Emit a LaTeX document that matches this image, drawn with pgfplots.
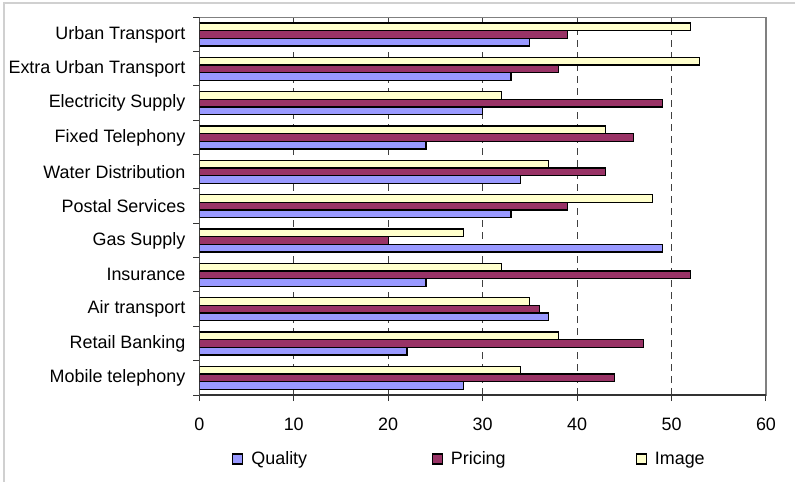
\documentclass[border=0pt]{standalone}
\usepackage{fontspec}
\setmainfont{Liberation Sans}
\usepackage{pgfplots}
\pgfplotsset{compat=1.18}
\definecolor{cQual}{HTML}{9999FF}
\definecolor{cPric}{HTML}{993366}
\definecolor{cImg}{HTML}{FFFFCC}
\definecolor{gridc}{HTML}{404040}
\definecolor{outerc}{HTML}{D0D0D0}
\begin{document}
\begin{tikzpicture}[font=\fontsize{18}{21.6}\selectfont]
\begin{axis}[
  scale only axis, width=566.7bp, height=377.7bp,
  xbar, bar width=0.223,
  xmin=0, xmax=60, ymin=-0.5, ymax=10.5,
  xtick={0,10,...,60},
  /pgf/number format/assume math mode=true,
  ytick={0,1,...,10},
  yticklabels={Mobile telephony,Retail Banking,Air transport,Insurance,Gas Supply,Postal Services,Water Distribution,Fixed Telephony,Electricity Supply,Extra Urban Transport,Urban Transport},
  yticklabel style={inner sep=0pt, xshift=-7.8bp},
  ytick style={draw=none},
  extra y ticks={-0.5,0.5,...,10.5},
  extra y tick labels={},
  extra y tick style={grid=none, yticklabel={\mbox{}}, ytick style={draw=black!80, line width=1bp}},
  tick pos=left, tick align=outside,
  major tick length=6bp,
  xtick style={black!80, line width=1bp},
  xmajorgrids=true, ymajorgrids=false,
  major x grid style={gridc, line width=1bp, dash pattern=on 7bp off 5bp},
  axis line style={draw=gray, line width=1.2bp},
  xticklabel style={inner sep=0pt, yshift=-16.5bp},
  legend columns=3,
  legend style={draw=none, fill=none, inner sep=0pt,
    at={(axis description cs:0.0577,-0.1695)}, anchor=west,
    /tikz/column 1/.style={column sep=6bp},
    /tikz/column 2/.style={column sep=122.5bp},
    /tikz/column 3/.style={column sep=6bp},
    /tikz/column 4/.style={column sep=128bp},
    /tikz/column 5/.style={column sep=6bp}},
  legend image code/.code={\draw[#1, line width=1.2bp] (0bp,-5bp) rectangle (10bp,5bp);},
]
\addplot[fill=cQual, draw=black, line width=1.2bp, bar shift=-0.223] coordinates {
 (28,0) (22,1) (37,2) (24,3) (49,4) (33,5) (34,6) (24,7) (30,8) (33,9) (35,10)};
\addplot[fill=cPric, draw=black, line width=1.2bp, bar shift=0] coordinates {
 (44,0) (47,1) (36,2) (52,3) (20,4) (39,5) (43,6) (46,7) (49,8) (38,9) (39,10)};
\addplot[fill=cImg, draw=black, line width=1.2bp, bar shift=0.223] coordinates {
 (34,0) (38,1) (35,2) (32,3) (28,4) (48,5) (37,6) (43,7) (32,8) (53,9) (52,10)};
\legend{Quality,Pricing,Image}
\draw[black!80, line width=1.2bp] (rel axis cs:0,1) -- (rel axis cs:0,0) -- (rel axis cs:1,0);
\end{axis}
\draw[outerc, line width=1.5bp] (-195.3bp,-87bp) -- (-195.3bp,392bp) -- (595.7bp,392bp);
\pgfresetboundingbox
\path[use as bounding box] (-199.3bp,-87bp) rectangle (595.7bp,395bp);
\end{tikzpicture}
\end{document}
